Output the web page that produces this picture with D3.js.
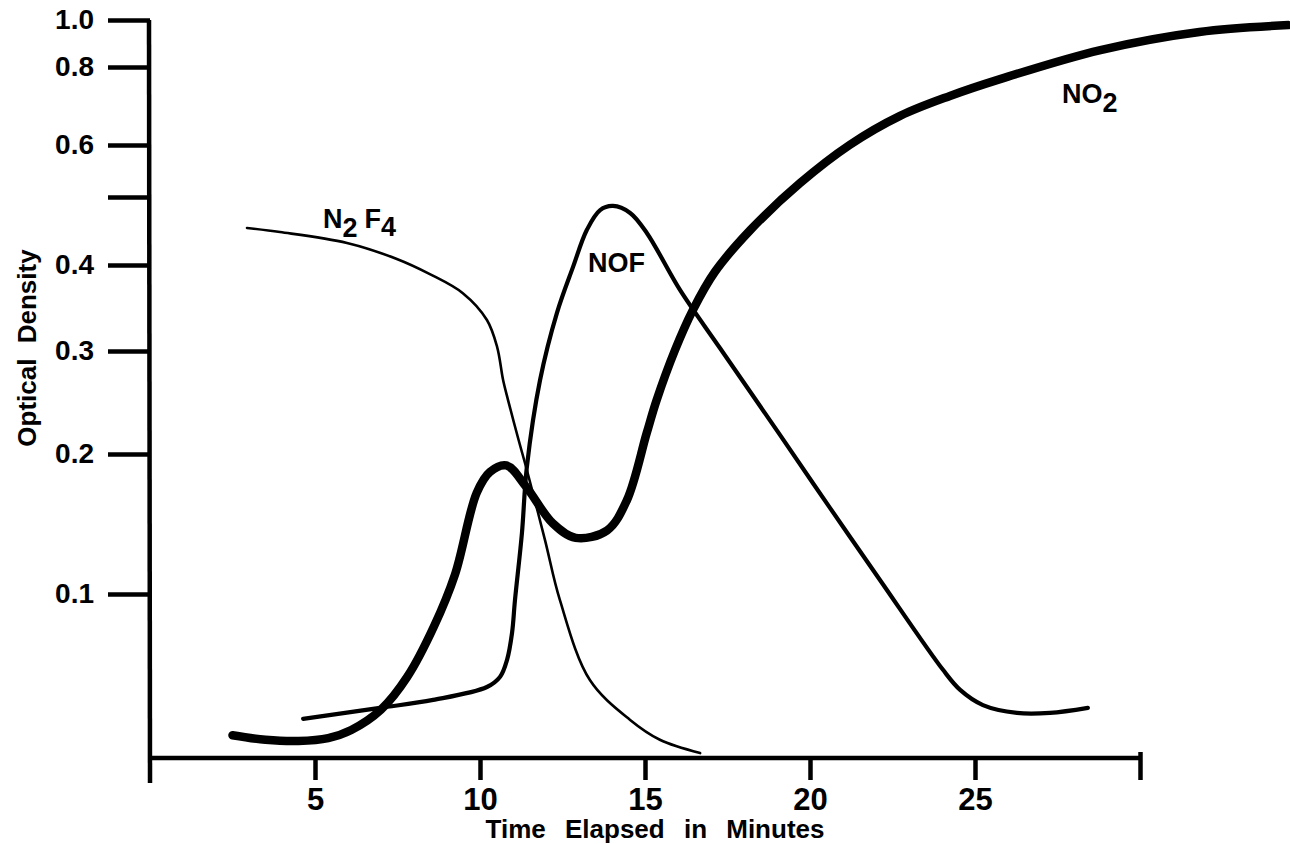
<!DOCTYPE html>
<html>
<head>
<meta charset="utf-8">
<script src="https://cdn.jsdelivr.net/npm/d3@7"></script>
<style>
  html, body { margin: 0; padding: 0; background: #fff; }
  svg text { font-family: "Liberation Sans", Arial, sans-serif; font-weight: bold; fill: #000; }
</style>
</head>
<body>
<svg id="chart"></svg>
<script>
// ---- data (time in minutes, optical density) ----
const no2Series = [
  [2.5, 0.0497], [3.5, 0.0486], [4.5, 0.0483], [5.4, 0.049], [6.1, 0.051],
  [7.0, 0.0564], [7.8, 0.0664], [8.6, 0.085], [9.24, 0.110], [9.9, 0.165],
  [10.3, 0.183], [10.8, 0.189], [11.4, 0.170], [12.2, 0.142], [12.9, 0.132],
  [13.85, 0.137], [14.45, 0.159], [15.05, 0.217], [15.35, 0.247], [15.91, 0.301],
  [16.45, 0.344], [17.12, 0.391], [18.2, 0.449], [19.7, 0.525], [21.2, 0.600],
  [22.73, 0.668], [24.24, 0.719], [25.76, 0.765], [28.8, 0.867], [31.8, 0.945],
  [34.5, 0.976]
];
const nofSeries = [
  [4.64, 0.0539], [6.97, 0.0569], [8.58, 0.0592], [10.21, 0.0631], [10.61, 0.0664],
  [10.82, 0.0722], [10.97, 0.0824], [11.06, 0.097], [11.27, 0.135], [11.42, 0.1875],
  [11.82, 0.2676], [12.33, 0.3406], [12.82, 0.3975], [13.24, 0.449], [13.64, 0.479],
  [14.03, 0.4855], [14.55, 0.4745], [15.06, 0.444], [16.06, 0.368], [17.27, 0.303],
  [19.09, 0.2156], [20.61, 0.153], [22.12, 0.1072], [24.03, 0.0687], [24.55, 0.0622],
  [25.24, 0.0577], [26.27, 0.0555], [27.27, 0.0555], [28.42, 0.0569]
];
const n2f4Series = [
  [2.94, 0.4517], [3.94, 0.4457], [5.97, 0.430], [7.48, 0.408], [8.48, 0.388],
  [9.48, 0.364], [10.21, 0.3328], [10.52, 0.304], [10.70, 0.2676], [10.85, 0.2473],
  [11.17, 0.2113], [11.42, 0.1848], [11.97, 0.1306], [12.42, 0.0971], [13.33, 0.0653],
  [14.55, 0.0536], [15.45, 0.0486], [16.67, 0.0455]
];

const xTickVals = [5, 10, 15, 20, 25, 30];
const xTickLabels = ["5", "10", "15", "20", "25", ""];
const yTickVals = [0.1, 0.2, 0.3, 0.4, 0.5, 0.6, 0.8, 1.0];
const yTickLabels = ["0.1", "0.2", "0.3", "0.4", "", "0.6", "0.8", "1.0"];

// ---- layout ----
const width = 1290, height = 844;
const axisX = 150, axisY = 758, axisRight = 1140, axisTop = 20;
// the printed density axis is hand spaced, so each tick gets its own position
const yTickPos = [594, 454, 351, 265, 197, 145, 67, 20];

const svg = d3.select("#chart").attr("width", width).attr("height", height);

const x = d3.scaleLinear().domain([0, 30]).range([axisX, axisRight]);
const yLog = d3.scaleLinear().domain(yTickVals.map(Math.log10)).range(yTickPos);
const y = v => yLog(Math.log10(v));

// axis lines
svg.append("line")
    .attr("x1", axisX - 1).attr("y1", axisTop)
    .attr("x2", axisX).attr("y2", axisY + 25)
    .attr("stroke", "#000").attr("stroke-width", 4.5);
svg.append("line")
    .attr("x1", axisX - 2).attr("y1", axisY)
    .attr("x2", axisRight + 2).attr("y2", axisY)
    .attr("stroke", "#000").attr("stroke-width", 4.5);

// y ticks
const yAxis = d3.axisLeft(yLog)
    .tickValues(yTickVals.map(Math.log10))
    .tickFormat((d, i) => yTickLabels[i])
    .tickSize(42)
    .tickPadding(14);
const gy = svg.append("g").attr("transform", `translate(${axisX},0)`).call(yAxis);
gy.select(".domain").remove();
gy.selectAll(".tick line").attr("stroke", "#000").attr("stroke-width", 4.5);
gy.selectAll(".tick text")
    .style("font-size", "28px")
    .style("font-family", "'Liberation Sans', Arial, sans-serif")
    .style("font-weight", "bold");

// x ticks
const xAxis = d3.axisBottom(x)
    .tickValues(xTickVals)
    .tickFormat((d, i) => xTickLabels[i])
    .tickSize(22)
    .tickPadding(8);
const gx = svg.append("g").attr("transform", `translate(0,${axisY})`).call(xAxis);
gx.select(".domain").remove();
gx.selectAll(".tick line").attr("stroke", "#000").attr("stroke-width", 4.5);
gx.selectAll(".tick text")
    .style("font-size", "31px")
    .style("font-family", "'Liberation Sans', Arial, sans-serif")
    .style("font-weight", "bold");
// end tick at 30 reaches a little above the axis too
gx.selectAll(".tick").filter(d => d === 30).select("line").attr("y1", -6);

// curves
const line = d3.line()
    .x(d => x(d[0]))
    .y(d => y(d[1]))
    .curve(d3.curveCatmullRom.alpha(0.5));

const curves = [
  { data: n2f4Series, w: 2.6 },
  { data: nofSeries, w: 4.2 },
  { data: no2Series, w: 8.5 }
];
svg.selectAll(".curve")
    .data(curves)
    .enter()
    .append("path")
    .attr("class", "curve")
    .attr("d", d => line(d.data))
    .attr("fill", "none")
    .attr("stroke", "#000")
    .attr("stroke-width", d => d.w)
    .attr("stroke-linecap", "round")
    .attr("stroke-linejoin", "round");

// curve labels
const n2f4 = svg.append("text").attr("x", 323).attr("y", 228).style("font-size", "27px");
n2f4.append("tspan").text("N");
n2f4.append("tspan").attr("dy", 9).text("2");
n2f4.append("tspan").attr("dy", -9).attr("dx", 7).text("F");
n2f4.append("tspan").attr("dy", 8).text("4");

svg.append("text").attr("x", 588).attr("y", 272).style("font-size", "27px").text("NOF");

const no2 = svg.append("text").attr("x", 1062).attr("y", 103).style("font-size", "27px");
no2.append("tspan").text("NO");
no2.append("tspan").attr("dy", 9).text("2");

// axis titles
svg.append("text")
    .attr("x", 655).attr("y", 838)
    .attr("text-anchor", "middle")
    .style("font-size", "26px")
    .style("word-spacing", "12px")
    .text("Time Elapsed in Minutes");

svg.append("text")
    .attr("transform", "translate(36,348) rotate(-90)")
    .attr("text-anchor", "middle")
    .style("font-size", "26px")
    .style("word-spacing", "8px")
    .text("Optical Density");
</script>
</body>
</html>
